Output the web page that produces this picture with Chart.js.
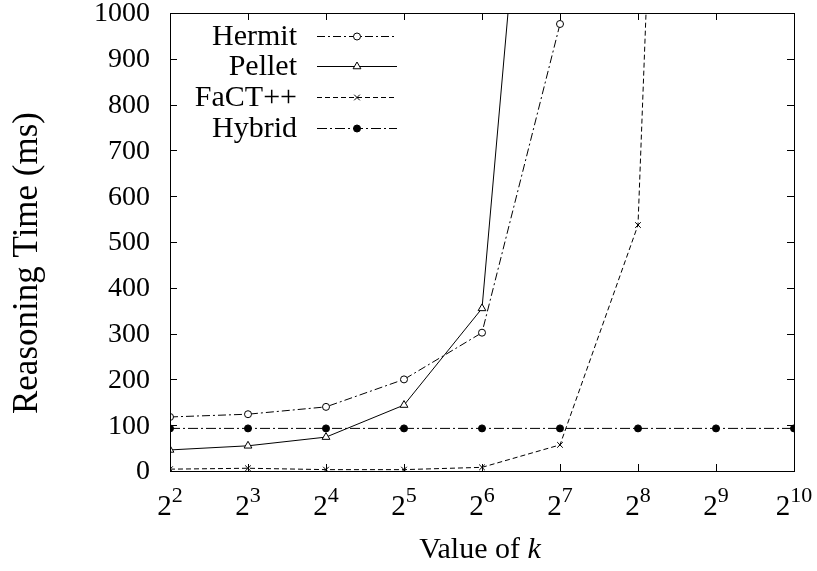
<!DOCTYPE html>
<html>
<head>
<meta charset="utf-8">
<script src="https://cdn.jsdelivr.net/npm/chart.js@4/dist/chart.umd.min.js"></script>
<style>
  html, body { margin: 0; padding: 0; background: #fff; }
  #wrap { width: 817px; height: 571px; position: relative; }
</style>
</head>
<body>
<div id="wrap"><canvas id="c" width="817" height="571"></canvas></div>
<script>
// data (x = exponent of k, y in ms)
const exponents = [2, 3, 4, 5, 6, 7, 8, 9, 10];
const hermit = [118, 124, 140, 200, 302, 976];
const pellet = [46, 55, 74, 144, 355, 2290];
const fact = [4, 6, 3, 3, 8, 57, 537, 5040];
const hybrid = [93, 93, 93, 93, 93, 93, 93, 93, 93];
const yTicks = [0, 100, 200, 300, 400, 500, 600, 700, 800, 900, 1000];

const SERIF = '"Liberation Serif", "DejaVu Serif", serif';

function pts(vals) {
    return vals.map((v, i) => ({ x: exponents[i], y: v }));
}

const series = [
    { label: 'Hermit', data: hermit, dash: [8, 3, 2, 3], style: 'circle', r: 3.5, fill: '#fff' },
    { label: 'Pellet', data: pellet, dash: [], style: 'triangle', r: 4.5, fill: '#fff' },
    { label: 'FaCT++', data: fact, dash: [5, 3], style: 'crossRot', r: 4, fill: '#fff' },
    { label: 'Hybrid', data: hybrid, dash: [10, 3, 2, 3], style: 'circle', r: 3.5, fill: '#000' },
];

const frame = {
    id: 'frame',
    afterDraw(chart) {
        const { ctx, chartArea: a, scales } = chart;
        const xs = scales.x, ys = scales.y;
        ctx.save();
        ctx.strokeStyle = '#000';
        ctx.lineWidth = 1;
        ctx.setLineDash([]);
        ctx.strokeRect(a.left + 0.5, a.top + 0.5, a.right - a.left, a.bottom - a.top);

        // inward ticks, mirrored on all four sides
        const tl = 7;
        ctx.beginPath();
        yTicks.forEach(v => {
            const y = Math.round(ys.getPixelForValue(v)) + 0.5;
            ctx.moveTo(a.left, y); ctx.lineTo(a.left + tl, y);
            ctx.moveTo(a.right, y); ctx.lineTo(a.right - tl, y);
        });
        exponents.forEach(e => {
            const x = Math.round(xs.getPixelForValue(e)) + 0.5;
            ctx.moveTo(x, a.bottom); ctx.lineTo(x, a.bottom - tl);
            ctx.moveTo(x, a.top); ctx.lineTo(x, a.top + tl);
        });
        ctx.stroke();

        ctx.fillStyle = '#000';

        // y tick labels
        ctx.font = '28px ' + SERIF;
        ctx.textAlign = 'right';
        ctx.textBaseline = 'middle';
        yTicks.forEach(v => {
            ctx.fillText(String(v), a.left - 20, ys.getPixelForValue(v) + 1);
        });

        // x tick labels 2^n
        ctx.textBaseline = 'alphabetic';
        ctx.textAlign = 'left';
        exponents.forEach(e => {
            const x = xs.getPixelForValue(e);
            ctx.font = '29px ' + SERIF;
            const wb = ctx.measureText('2').width;
            ctx.font = '22px ' + SERIF;
            const ws = ctx.measureText(String(e)).width;
            const x0 = x - (wb + ws) / 2;
            ctx.font = '29px ' + SERIF;
            ctx.fillText('2', x0, a.bottom + 44);
            ctx.font = '22px ' + SERIF;
            ctx.fillText(String(e), x0 + wb, a.bottom + 31);
        });

        // x title with italic k
        ctx.font = '30px ' + SERIF;
        const t1 = 'Value of ';
        const w1 = ctx.measureText(t1).width;
        ctx.font = 'italic 30px ' + SERIF;
        const w2 = ctx.measureText('k').width;
        const tx = 480 - (w1 + w2) / 2;
        ctx.font = '30px ' + SERIF;
        ctx.fillText(t1, tx, 558);
        ctx.font = 'italic 30px ' + SERIF;
        ctx.fillText('k', tx + w1, 558);

        // y title
        ctx.save();
        ctx.translate(37, 263);
        ctx.rotate(-Math.PI / 2);
        ctx.textAlign = 'center';
        ctx.font = '35px ' + SERIF;
        ctx.fillText('Reasoning Time (ms)', 0, 0);
        ctx.restore();

        // legend, text right-aligned left of the sample
        const rows = [36, 66, 97, 128];
        chart.data.datasets.forEach((ds, i) => {
            const y = rows[i];
            ctx.font = '30px ' + SERIF;
            ctx.textAlign = 'right';
            ctx.textBaseline = 'alphabetic';
            ctx.fillStyle = '#000';
            ctx.fillText(ds.label, 297, y + 9);
            ctx.beginPath();
            ctx.setLineDash(ds.borderDash || []);
            ctx.moveTo(317, y + 0.5); ctx.lineTo(397, y + 0.5);
            ctx.stroke();
            ctx.setLineDash([]);
            ctx.fillStyle = ds.pointBackgroundColor;
            ctx.strokeStyle = '#000';
            Chart.helpers.drawPoint(ctx, {
                pointStyle: ds.pointStyle, radius: ds.pointRadius, borderWidth: 1, rotation: 0
            }, 357, y + 0.5);
        });
        ctx.restore();
    }
};

new Chart(document.getElementById('c'), {
    type: 'line',
    data: {
        datasets: series.map(s => ({
            label: s.label,
            data: pts(s.data),
            borderColor: '#000',
            borderWidth: 1,
            borderDash: s.dash,
            pointStyle: s.style,
            pointRadius: s.r,
            pointBorderColor: '#000',
            pointBorderWidth: 1,
            pointBackgroundColor: s.fill,
            tension: 0,
            fill: false,
        }))
    },
    options: {
        responsive: false,
        animation: false,
        events: [],
        layout: { padding: { left: 0, right: 23, top: 13, bottom: 0 } },
        scales: {
            x: {
                type: 'linear', min: 2, max: 10,
                grid: { display: false }, border: { display: false },
                ticks: { display: false },
                afterFit(s) { s.height = 100; }
            },
            y: {
                min: 0, max: 1000,
                grid: { display: false }, border: { display: false },
                ticks: { display: false },
                afterFit(s) { s.width = 170; }
            }
        },
        plugins: { legend: { display: false }, tooltip: { enabled: false } }
    },
    plugins: [frame]
});
</script>
</body>
</html>
